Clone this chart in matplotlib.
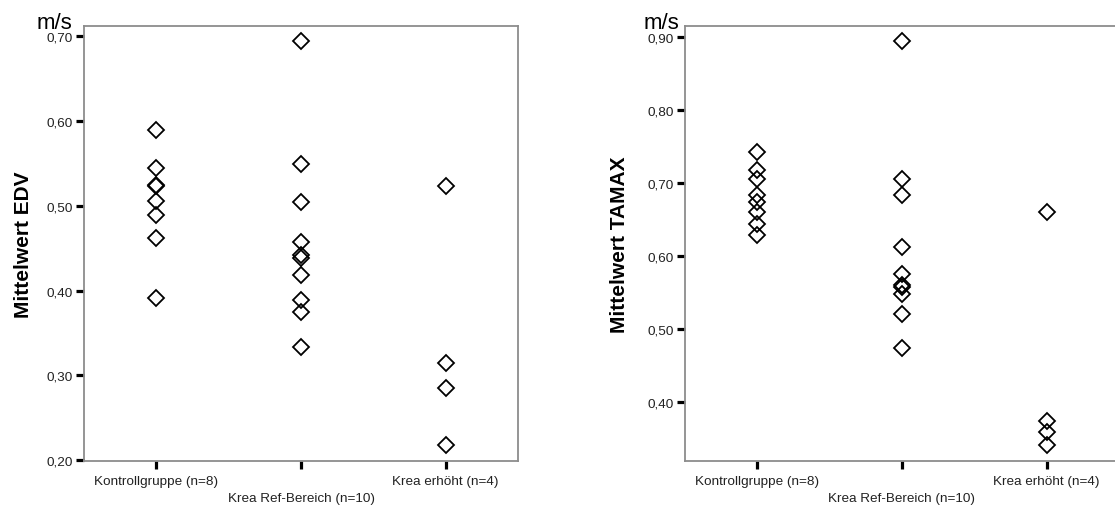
import matplotlib.pyplot as plt
from matplotlib.ticker import FixedLocator, FuncFormatter

plt.rcParams['font.family'] = ['Liberation Sans', 'DejaVu Sans']

groups = ['Kontrollgruppe (n=8)', '\nKrea Ref-Bereich (n=10)', 'Krea erhöht (n=4)']

# Mittelwert EDV (m/s)
edv_kontroll = [0.590, 0.545, 0.525, 0.523, 0.506, 0.489, 0.462, 0.391]
edv_ref = [0.695, 0.549, 0.505, 0.457, 0.442, 0.439, 0.418, 0.389, 0.375, 0.333]
edv_erhoeht = [0.524, 0.315, 0.285, 0.218]

# Mittelwert TAMAX (m/s)
tamax_kontroll = [0.742, 0.718, 0.706, 0.684, 0.674, 0.661, 0.644, 0.629]
tamax_ref = [0.895, 0.706, 0.684, 0.612, 0.575, 0.560, 0.557, 0.548, 0.521, 0.474]
tamax_erhoeht = [0.661, 0.373, 0.358, 0.341]

edv_ticks = [0.2, 0.3, 0.4, 0.5, 0.6, 0.7]
tamax_ticks = [0.4, 0.5, 0.6, 0.7, 0.8, 0.9]

fig = plt.figure(figsize=(11.15, 5.10), dpi=100)
ax1 = fig.add_axes([84/1115, 1-462/510, 434/1115, (462-26.7)/510])
ax2 = fig.add_axes([685/1115, 1-462/510, 434/1115, (462-26.7)/510])


def draw(ax, series, ticks, ylim, ylabel, labelx):
    for i, vals in enumerate(series):
        ax.plot([i + 1] * len(vals), vals, linestyle='none', marker='D', markersize=8,
                markerfacecolor='none', markeredgecolor='black', markeredgewidth=1.3, zorder=3)
    ax.set_xlim(0.5, 3.5)
    ax.set_ylim(*ylim)
    ax.set_xticks([1, 2, 3])
    ax.set_xticklabels(groups, linespacing=1.55)
    ax.yaxis.set_major_locator(FixedLocator(ticks))
    ax.yaxis.set_major_formatter(FuncFormatter(lambda v, p: ('%.2f' % v).replace('.', ',')))
    for s in ax.spines.values():
        s.set_color('#8c8c8c')
        s.set_linewidth(1.3)
    ax.tick_params(axis='both', direction='out', length=5.8, width=2.3, color='black',
                   labelsize=9.7, labelcolor='#222222', pad=2)
    ax.tick_params(axis='x', pad=4)
    ax.set_ylabel(ylabel, fontsize=15, fontweight='bold')
    ax.yaxis.set_label_coords(labelx, 0.5)


draw(ax1, [edv_kontroll, edv_ref, edv_erhoeht], edv_ticks, (0.199, 0.7126), 'Mittelwert EDV', -0.117)
draw(ax2, [tamax_kontroll, tamax_ref, tamax_erhoeht], tamax_ticks, (0.3186, 0.916), 'Mittelwert TAMAX', -0.13)

fig.text(72/1115, 1-29/510, 'm/s', ha='right', va='baseline', fontsize=16)
fig.text(679/1115, 1-29/510, 'm/s', ha='right', va='baseline', fontsize=16)

plt.savefig('out.png', dpi=100)
